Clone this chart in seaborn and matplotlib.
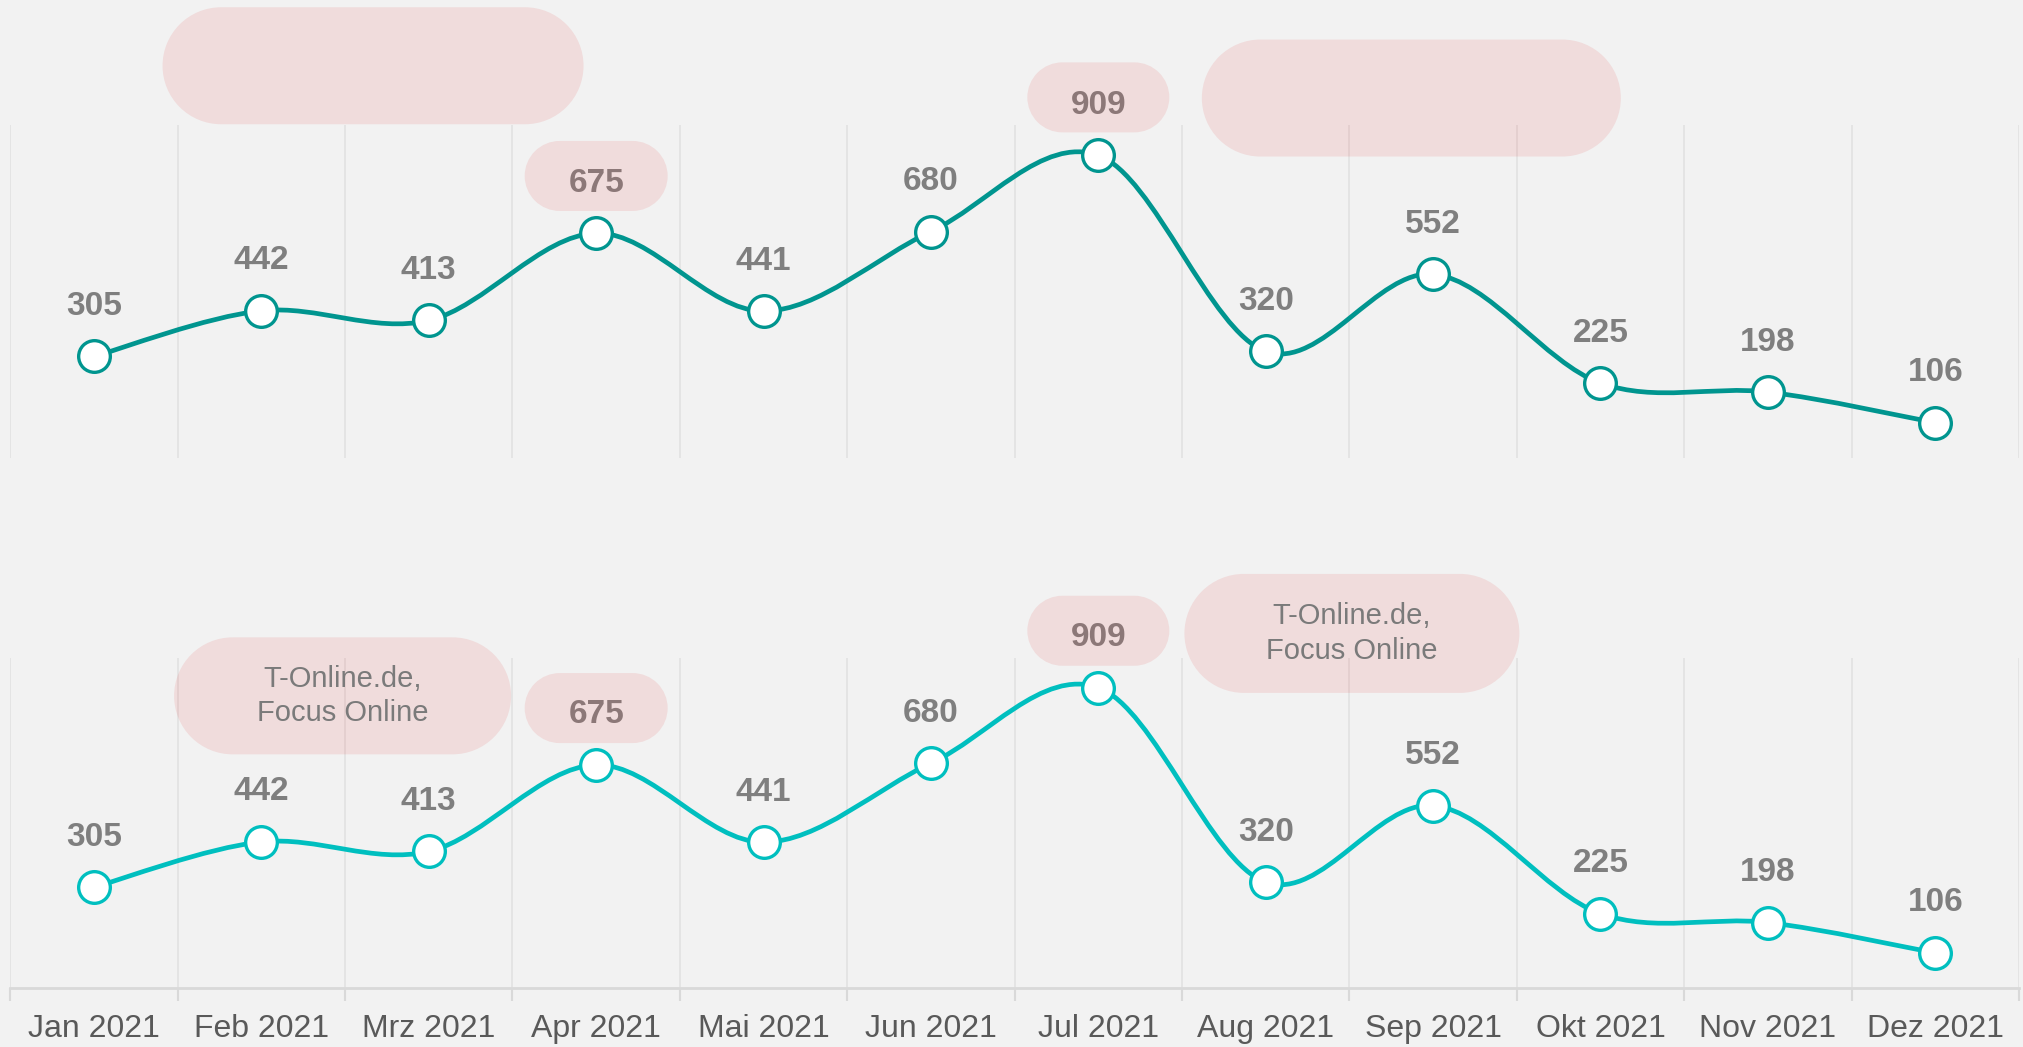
import numpy as np
import pandas as pd
import matplotlib
matplotlib.use("Agg")
import matplotlib.pyplot as plt
import matplotlib.transforms as mtransforms
from matplotlib.path import Path
from matplotlib.patches import PathPatch
import seaborn as sns

# data
months = ["Jan 2021", "Feb 2021", "Mrz 2021", "Apr 2021", "Mai 2021", "Jun 2021",
          "Jul 2021", "Aug 2021", "Sep 2021", "Okt 2021", "Nov 2021", "Dez 2021"]
values_top = [305, 442, 413, 675, 441, 680, 909, 320, 552, 225, 198, 106]
values_bottom = [305, 442, 413, 675, 441, 680, 909, 320, 552, 225, 198, 106]
bubble_text = "T-Online.de,\nFocus Online"

# bubbles: (x index, y value, width in, height in, text)
bubbles_top = [(1.667, 1178, 4.21, 1.17, ""),
               (3.0, 847, 1.43, 0.70, ""),
               (6.0, 1083, 1.42, 0.70, ""),
               (7.87, 1081, 4.19, 1.17, "")]
bubbles_bottom = [(1.485, 884, 3.37, 1.17, bubble_text),
                  (3.0, 847, 1.43, 0.70, ""),
                  (6.0, 1081, 1.42, 0.70, ""),
                  (7.515, 1073, 3.35, 1.19, bubble_text)]

BG = "#f2f2f2"
sns.set_theme(style="white")
plt.rcParams["font.family"] = ["Liberation Sans", "DejaVu Sans"]

fig = plt.figure(figsize=(20.23, 10.47), dpi=100, facecolor=BG)


def smooth_path(xs, ys):
    # excel-like smoothed line as cubic bezier segments
    pts = np.column_stack([xs, ys]).astype(float)
    verts = [pts[0]]
    codes = [Path.MOVETO]
    n = len(pts)
    for i in range(n - 1):
        p0 = pts[i - 1] if i > 0 else pts[i]
        p1 = pts[i]
        p2 = pts[i + 1]
        p3 = pts[i + 2] if i + 2 < n else pts[i + 1]
        c1 = p1 + (p2 - p0) / 6.0
        c2 = p2 - (p3 - p1) / 6.0
        verts += [c1, c2, p2]
        codes += [Path.CURVE4] * 3
    return Path(verts, codes)


def stadium(w, h):
    r = h / 2
    left = Path.arc(90, 270)
    right = Path.arc(-90, 90)
    lv = left.vertices * r + [-w / 2 + r, 0]
    rv = right.vertices * r + [w / 2 - r, 0]
    verts = np.vstack([lv, rv, lv[:1]])
    codes = list(left.codes) + [Path.LINETO] + list(right.codes[1:]) + [Path.CLOSEPOLY]
    return Path(verts, codes)


def panel(rect, vals, color, bubbles, show_axis):
    ax = fig.add_axes(rect)
    ax.set_facecolor(BG)
    df = pd.DataFrame({"idx": np.arange(len(months)), "value": vals})

    line = PathPatch(smooth_path(df["idx"], df["value"]), facecolor="none",
                     edgecolor=color, lw=3.4, zorder=2)
    ax.add_patch(line)
    sns.scatterplot(data=df, x="idx", y="value", ax=ax, s=520, color="white",
                    edgecolor=color, linewidth=2.4, zorder=3, legend=False)

    for i, v in enumerate(vals):
        ax.annotate(str(v), (i, v), xytext=(0, 36), textcoords="offset points",
                    ha="center", va="center", fontsize=24, fontweight="bold",
                    color="#7f7f7f", zorder=4)

    for bx, by, bw, bh, txt in bubbles:
        tr = fig.dpi_scale_trans + mtransforms.ScaledTranslation(bx, by, ax.transData)
        box = PathPatch(stadium(bw, bh), transform=tr,
                        facecolor=(0.894, 0.286, 0.286, 0.13),
                        edgecolor="none", clip_on=False, zorder=5)
        ax.add_patch(box)
        if txt:
            ax.text(0, 0, txt, transform=tr, ha="center", va="center",
                    fontsize=21, color="#7a7a7a", linespacing=1.3, zorder=6)

    ax.set_xlim(-0.5, len(months) - 0.5)
    ax.set_ylim(0, 1000)
    ax.set_xlabel("")
    ax.set_ylabel("")
    ax.set_yticks([])
    ax.set_xticks(np.arange(len(months)))
    ax.set_xticks(np.arange(len(months) + 1) - 0.5, minor=True)
    ax.grid(False)
    ax.grid(True, which="minor", axis="x", color="#e2e2e2", lw=1.2)
    for s in ["top", "left", "right"]:
        ax.spines[s].set_visible(False)
    if show_axis:
        ax.spines["bottom"].set_color("#d9d9d9")
        ax.spines["bottom"].set_linewidth(2)
        ax.set_xticklabels(months, fontsize=23, color="#595959")
        ax.tick_params(axis="x", which="major", length=0, pad=19)
        ax.tick_params(axis="x", which="minor", length=9, width=1.5,
                       color="#d9d9d9", direction="out", bottom=True)
    else:
        ax.spines["bottom"].set_visible(False)
        ax.set_xticklabels([])
        ax.tick_params(axis="x", which="both", length=0)
    return ax


panel([0.0051, 0.5626, 0.9929, 0.318], values_top, "#00958f", bubbles_top, False)
panel([0.0051, 0.0564, 0.9929, 0.3156], values_bottom, "#00bfbf", bubbles_bottom, True)

fig.savefig("out.png", dpi=100, facecolor=BG)
